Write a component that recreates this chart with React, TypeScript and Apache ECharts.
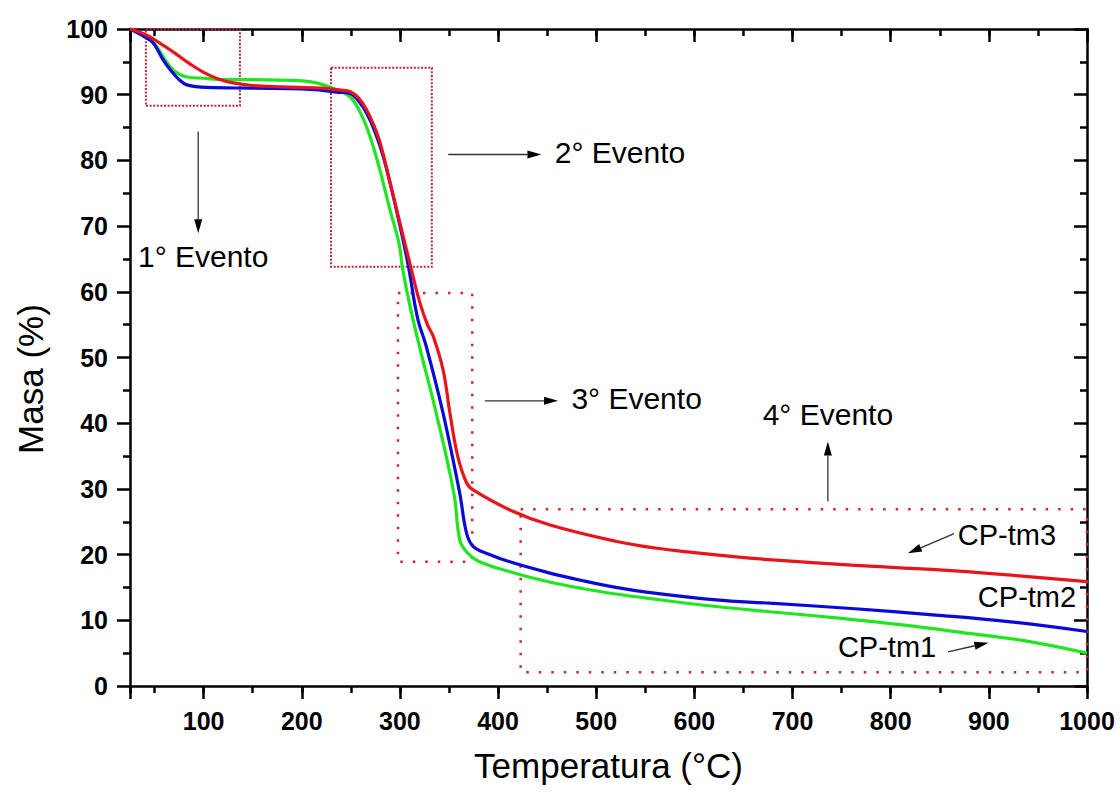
import React, { useEffect, useRef } from 'react';
import * as echarts from 'echarts';

// ---- Data (temperature °C, mass %) ----
const tm1Temp = [25, 40, 50, 60, 70, 83, 100, 120, 150, 185, 200, 215, 235, 249, 258, 266, 273, 280, 290, 299, 303, 310, 320, 337, 355, 361, 368, 380, 412, 450, 487, 520, 555, 622, 677, 750, 812, 880, 940, 1000];
const tm1Mass = [100, 99, 97.8, 95.5, 93.6, 92.7, 92.5, 92.3, 92.3, 92.2, 92.1, 91.8, 90.8, 89.7, 87.8, 85.1, 82, 78.3, 72.4, 67.4, 63.3, 58, 51.6, 41.5, 29.3, 22.2, 20.4, 19.0, 17.4, 15.9, 14.8, 14.0, 13.3, 12.1, 11.3, 10.3, 9.3, 8.0, 6.8, 5.0];

const tm2Temp = [25, 40, 49, 58, 66, 75, 83, 103, 150, 200, 219, 235, 249, 258, 266, 275, 283, 290, 296.5, 308, 318, 327, 344, 361, 368, 375, 390, 412, 450, 487, 520, 555, 622, 677, 760, 846, 920, 1000];
const tm2Mass = [100, 98.8, 97.8, 95.5, 93.8, 92.3, 91.5, 91.1, 91.0, 90.9, 90.7, 90.4, 90.2, 89, 87.2, 84.2, 80.6, 76.5, 72.4, 64.4, 56, 51.6, 41.5, 29.3, 23.2, 21.2, 20.1, 18.9, 17.3, 16.0, 15.0, 14.2, 13.1, 12.6, 11.8, 10.8, 9.8, 8.3];

const tm3Temp = [25, 40, 55, 70, 85, 100, 115, 130, 150, 180, 219, 240, 249, 258, 266, 273, 280, 290, 300, 310, 320, 328, 334, 344, 351, 359, 368, 375, 412, 453, 521, 560, 600, 640, 680, 760, 846, 920, 1000];
const tm3Mass = [100, 99.2, 97.9, 96.4, 94.8, 93.4, 92.4, 91.8, 91.4, 91.2, 91.0, 90.7, 90.5, 89.5, 87.7, 85.5, 82.6, 76.6, 70.5, 64.4, 58.5, 55, 53.2, 48.1, 41.5, 34.9, 30.9, 29.8, 26.8, 24.5, 22.0, 21.0, 20.3, 19.7, 19.2, 18.4, 17.7, 16.9, 15.9];

const seriesNames = ['CP-tm1', 'CP-tm2', 'CP-tm3'];
const seriesColors = ['#22e522', '#0a0ad8', '#e8141c'];

// ---- Annotations (data coordinates) ----
const eventBoxes = [
  [[41.2, 100], [137, 88.3]],
  [[229.8, 94.1], [332.5, 63.8]],
  [[298, 59.8], [373.7, 18.9]],
  [[423, 26.9], [1000, 2.1]],
];
const eventTexts = ['1° Evento', '2° Evento', '3° Evento', '4° Evento'];
const eventTextPos = [[33.1, 65.4], [457.8, 81.2], [474.7, 43.8], [736, 41.4]];
const eventTextAlign = ['left', 'left', 'left', 'center'];
const arrows = [
  [[94.5, 84.4], [94.5, 68.9]],
  [[349.2, 80.9], [444.2, 80.9]],
  [[386.5, 43.4], [461.1, 43.4]],
  [[736, 28.1], [736, 37.2]],
  [[864.5, 23.2], [817.5, 20.2]],
  [[858.4, 5.2], [899.5, 6.6]],
];
const curveLabelPos = [[746.2, 6.0], [888.8, 13.5], [868.4, 23.0]];

const FONT = '"Liberation Sans", Arial, sans-serif';

function pairs(t: number[], m: number[]) {
  return t.map((v, i) => [v, m[i]]);
}

export default function App() {
  const ref = useRef<HTMLDivElement>(null);
  useEffect(() => {
    document.body.style.margin = '0';
    const chart = echarts.init(ref.current!, null, { renderer: 'svg' });
    const axisLine = { show: true, lineStyle: { color: '#000', width: 2.5 } };
    const baseX = { type: 'value', min: 25, max: 1000, splitLine: { show: false } };
    const option: any = {
      animation: false,
      backgroundColor: '#fff',
      grid: { left: 130, right: 33, top: 29, bottom: 106, containLabel: false },
      xAxis: [
        {
          ...baseX,
          position: 'bottom',
          splitNumber: 10,
          axisLine,
          axisTick: { show: true, inside: false, length: 13, lineStyle: { color: '#000', width: 2.5 } },
          axisLabel: {
            show: true,
            margin: 22,
            color: '#000',
            fontFamily: FONT,
            fontWeight: 'bold',
            fontSize: 25,
            formatter: (v: number) => (v % 100 === 0 ? String(v) : ''),
          },
          name: 'Temperatura (°C)',
          nameLocation: 'middle',
          nameGap: 62,
          nameTextStyle: { fontFamily: FONT, fontSize: 35, color: '#000' },
        },
        {
          ...baseX,
          position: 'bottom',
          splitNumber: 20,
          axisLine: { show: false },
          axisTick: { show: true, inside: false, length: 7, lineStyle: { color: '#000', width: 2.5 } },
          axisLabel: { show: false },
        },
        {
          ...baseX,
          position: 'top',
          splitNumber: 10,
          axisLine,
          axisTick: { show: true, inside: true, length: 13, lineStyle: { color: '#000', width: 2.5 } },
          axisLabel: { show: false },
        },
        {
          ...baseX,
          position: 'top',
          splitNumber: 20,
          axisLine: { show: false },
          axisTick: { show: true, inside: true, length: 7, lineStyle: { color: '#000', width: 2.5 } },
          axisLabel: { show: false },
        },
      ],
      yAxis: [
        {
          type: 'value',
          min: 0,
          max: 100,
          interval: 10,
          position: 'left',
          splitLine: { show: false },
          axisLine,
          axisTick: { show: true, inside: false, length: 13, lineStyle: { color: '#000', width: 2.5 } },
          minorTick: { show: true, splitNumber: 2, length: 7, lineStyle: { color: '#000', width: 2.5 } },
          axisLabel: { margin: 22, color: '#000', fontFamily: FONT, fontWeight: 'bold', fontSize: 25 },
        },
        {
          type: 'value',
          min: 0,
          max: 100,
          interval: 10,
          position: 'right',
          splitLine: { show: false },
          axisLine,
          axisTick: { show: true, inside: true, length: 13, lineStyle: { color: '#000', width: 2.5 } },
          minorTick: { show: true, splitNumber: 2, length: 7, lineStyle: { color: '#000', width: 2.5 } },
          axisLabel: { show: false },
        },
      ],
      series: [
        ...[[tm1Temp, tm1Mass], [tm2Temp, tm2Mass], [tm3Temp, tm3Mass]].map(([t, m], i) => ({
          name: seriesNames[i],
          type: 'line',
          data: pairs(t as number[], m as number[]),
          showSymbol: false,
          smooth: 0.4,
          lineStyle: { color: seriesColors[i], width: 3.2 },
          itemStyle: { color: seriesColors[i] },
          z: 3 + i,
        })),
        {
          name: 'boxes',
          type: 'line',
          data: [],
          z: 2,
          markArea: {
            silent: true,
            data: eventBoxes.map((b, i) => [
              {
                coord: b[0],
                itemStyle: {
                  color: 'rgba(0,0,0,0)',
                  borderColor: i < 2 ? '#b8283a' : '#d0262c',
                  borderWidth: i < 2 ? 2 : 2.5,
                  borderType: i < 2 ? [2, 1.6] : [2.5, 10],
                },
              },
              { coord: b[1] },
            ]),
          },
        },
      ],
    };
    chart.setOption(option);

    const px = (p: number[]) => chart.convertToPixel({ xAxisIndex: 0, yAxisIndex: 0 }, p) as number[];
    const graphics: any[] = [];
    arrows.forEach(([a, b]) => {
      const p1 = px(a);
      const p2 = px(b);
      const dx = p2[0] - p1[0];
      const dy = p2[1] - p1[1];
      const len = Math.sqrt(dx * dx + dy * dy);
      const ux = dx / len;
      const uy = dy / len;
      const hl = 14;
      const hw = 4;
      const bx = p2[0] - ux * hl;
      const by = p2[1] - uy * hl;
      graphics.push({
        type: 'line',
        shape: { x1: p1[0], y1: p1[1], x2: bx, y2: by },
        style: { stroke: '#333', lineWidth: 1.3 },
        z: 10,
      });
      graphics.push({
        type: 'polygon',
        shape: { points: [[p2[0], p2[1]], [bx - uy * hw, by + ux * hw], [bx + uy * hw, by - ux * hw]] },
        style: { fill: '#000' },
        z: 10,
      });
    });
    eventTexts.forEach((t, i) => {
      const p = px(eventTextPos[i]);
      graphics.push({
        type: 'text',
        x: p[0],
        y: p[1],
        z: 10,
        style: { text: t, fontFamily: FONT, fontSize: 30, fill: '#000', align: eventTextAlign[i], verticalAlign: 'middle' },
      });
    });
    seriesNames.forEach((t, i) => {
      const p = px(curveLabelPos[i]);
      graphics.push({
        type: 'text',
        x: p[0],
        y: p[1],
        z: 10,
        style: { text: t, fontFamily: FONT, fontSize: 29, fill: '#000', align: 'left', verticalAlign: 'middle' },
      });
    });
    graphics.push({
      type: 'text',
      x: 30,
      y: 379,
      rotation: Math.PI / 2,
      z: 10,
      style: { text: 'Masa (%)', fontFamily: FONT, fontSize: 35, fill: '#000', align: 'center', verticalAlign: 'middle' },
    });
    chart.setOption({ graphic: graphics });
    return () => chart.dispose();
  }, []);
  return <div ref={ref} style={{ width: 1120, height: 792 }} />;
}
